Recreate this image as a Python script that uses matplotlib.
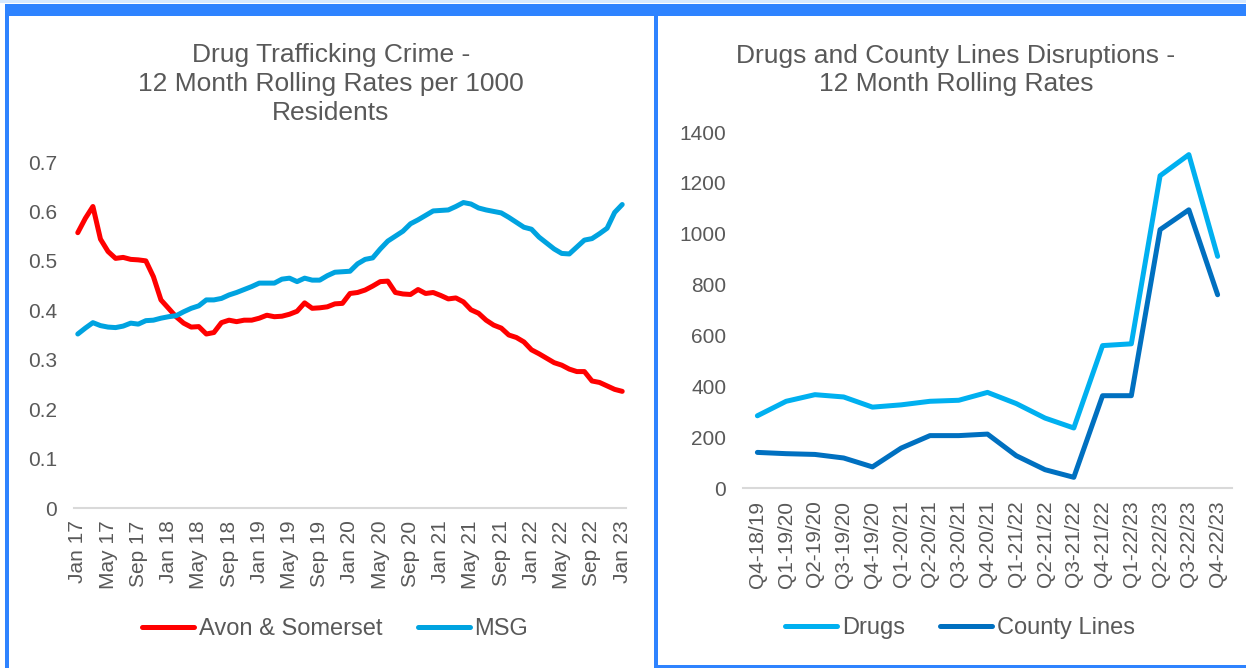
import matplotlib
matplotlib.use('Agg')
import matplotlib.pyplot as plt
from matplotlib.patches import Rectangle

plt.rcParams['font.family'] = ['Liberation Sans', 'DejaVu Sans']

# Monthly 12-month rolling rates per 1000 residents, Jan 2017 - Jan 2023
months = []
for yr in range(17, 24):
    for m in ['Jan', 'Feb', 'Mar', 'Apr', 'May', 'Jun', 'Jul', 'Aug', 'Sep', 'Oct', 'Nov', 'Dec']:
        months.append(f'{m} {yr}')
months = months[:73]

avon_somerset = [
    0.557, 0.586, 0.610, 0.544, 0.519, 0.505, 0.507, 0.503, 0.502, 0.500,
    0.468, 0.421, 0.404, 0.387, 0.374, 0.366, 0.367, 0.352, 0.355, 0.375,
    0.380, 0.377, 0.380, 0.380, 0.384, 0.390, 0.387, 0.388, 0.392, 0.398,
    0.415, 0.404, 0.405, 0.407, 0.413, 0.414, 0.434, 0.436, 0.441, 0.449,
    0.458, 0.459, 0.436, 0.433, 0.432, 0.442, 0.434, 0.436, 0.430, 0.423,
    0.425, 0.417, 0.401, 0.394, 0.380, 0.370, 0.364, 0.350, 0.345, 0.336,
    0.320, 0.312, 0.303, 0.294, 0.289, 0.281, 0.276, 0.276, 0.257, 0.254,
    0.247, 0.240, 0.236,
]
msg = [
    0.352, 0.364, 0.375, 0.369, 0.366, 0.365, 0.368, 0.374, 0.372, 0.379,
    0.380, 0.384, 0.387, 0.389, 0.397, 0.404, 0.409, 0.421, 0.421, 0.424,
    0.431, 0.436, 0.442, 0.448, 0.455, 0.455, 0.455, 0.463, 0.465, 0.458,
    0.465, 0.461, 0.461, 0.470, 0.477, 0.478, 0.479, 0.494, 0.503, 0.506,
    0.524, 0.540, 0.550, 0.560, 0.575, 0.583, 0.592, 0.601, 0.602, 0.603,
    0.610, 0.618, 0.615, 0.607, 0.603, 0.600, 0.597, 0.588, 0.578, 0.568,
    0.564, 0.548, 0.536, 0.524, 0.515, 0.514, 0.528, 0.542, 0.545, 0.555,
    0.566, 0.598, 0.614,
]

# Quarterly disruptions, 12 month rolling
quarters = ['Q4-18/19', 'Q1-19/20', 'Q2-19/20', 'Q3-19/20', 'Q4-19/20',
            'Q1-20/21', 'Q2-20/21', 'Q3-20/21', 'Q4-20/21', 'Q1-21/22',
            'Q2-21/22', 'Q3-21/22', 'Q4-21/22', 'Q1-22/23', 'Q2-22/23',
            'Q3-22/23', 'Q4-22/23']
drugs = [284, 341, 367, 358, 318, 327, 341, 345, 376, 332, 275, 236,
         560, 567, 1228, 1311, 911]
county_lines = [140, 135, 132, 118, 83, 157, 206, 206, 212, 127, 72, 42,
                363, 363, 1016, 1094, 760]

TXT = '#595959'
W, H = 1246, 668
fig = plt.figure(figsize=(W / 100, H / 100), dpi=100)

# panel frames
blue = '#2E83FF'
fig.patches.append(Rectangle((0, 1 - 3 / H), 1, 3 / H, transform=fig.transFigure,
                             facecolor='#D6E9FF', edgecolor='none'))
fig.patches.append(Rectangle((5 / W, 1 - 16 / H), 1 - 5 / W, 12 / H, transform=fig.transFigure,
                             facecolor=blue, edgecolor='none'))
fig.patches.append(Rectangle((5 / W, 0), 4 / W, 1 - 16 / H, transform=fig.transFigure,
                             facecolor=blue, edgecolor='none'))
fig.patches.append(Rectangle((654 / W, 0), 4 / W, 1 - 16 / H, transform=fig.transFigure,
                             facecolor=blue, edgecolor='none'))
fig.patches.append(Rectangle((654 / W, 0), 1 - 654 / W, 3 / H, transform=fig.transFigure,
                             facecolor=blue, edgecolor='none'))


def style_axis(ax):
    for s in ['top', 'right', 'left']:
        ax.spines[s].set_visible(False)
    ax.spines['bottom'].set_color('#D9D9D9')
    ax.spines['bottom'].set_linewidth(1.5)
    ax.tick_params(length=0, colors=TXT, labelsize=15)
    ax.tick_params(axis='x', pad=9)
    ax.tick_params(axis='y', pad=12)


# left chart
ax1 = fig.add_axes([74 / W, (H - 508) / H, 552 / W, 346 / H])
x1 = list(range(len(months)))
ax1.plot(x1, avon_somerset, color='#FF0000', lw=3.6, solid_capstyle='round', label='Avon & Somerset')
ax1.plot(x1, msg, color='#00A3E0', lw=3.6, solid_capstyle='round', label='MSG')
ax1.set_xlim(-0.5, len(months) - 0.5)
ax1.set_ylim(0, 0.7)
ax1.set_yticks([0, 0.1, 0.2, 0.3, 0.4, 0.5, 0.6, 0.7])
ax1.set_yticklabels(['0', '0.1', '0.2', '0.3', '0.4', '0.5', '0.6', '0.7'])
ax1.set_xticks(x1[::4])
ax1.set_xticklabels(months[::4], rotation=90)
style_axis(ax1)
leg1 = ax1.legend(loc='center', bbox_to_anchor=(335 / W, (H - 629) / H),
                  bbox_transform=fig.transFigure, ncol=2, frameon=False,
                  fontsize=17, handlelength=2.2, handletextpad=0.2, columnspacing=1.5)
for t in leg1.get_texts():
    t.set_color(TXT)

fig.text(331 / W, (H - 84) / H,
         'Drug Trafficking Crime -\n12 Month Rolling Rates per 1000\nResidents',
         ha='center', va='center', fontsize=19, color=TXT, linespacing=1.25)

# right chart
ax2 = fig.add_axes([743 / W, (H - 488) / H, 489 / W, 356 / H])
x2 = list(range(len(quarters)))
ax2.plot(x2, drugs, color='#00B0F0', lw=3.6, solid_capstyle='round', label='Drugs')
ax2.plot(x2, county_lines, color='#0070C0', lw=3.6, solid_capstyle='round', label='County Lines')
ax2.set_xlim(-0.5, len(quarters) - 0.5)
ax2.set_ylim(0, 1400)
ax2.set_yticks(range(0, 1401, 200))
ax2.set_xticks(x2)
ax2.set_xticklabels(quarters, rotation=90)
style_axis(ax2)
leg2 = ax2.legend(loc='center', bbox_to_anchor=(960 / W, (H - 628) / H),
                  bbox_transform=fig.transFigure, ncol=2, frameon=False,
                  fontsize=17, handlelength=2.2, handletextpad=0.2, columnspacing=1.5)
for t in leg2.get_texts():
    t.set_color(TXT)

fig.text(956 / W, (H - 70) / H,
         'Drugs and County Lines Disruptions -\n12 Month Rolling Rates',
         ha='center', va='center', fontsize=19, color=TXT, linespacing=1.25)

fig.savefig('out.png', dpi=100)
